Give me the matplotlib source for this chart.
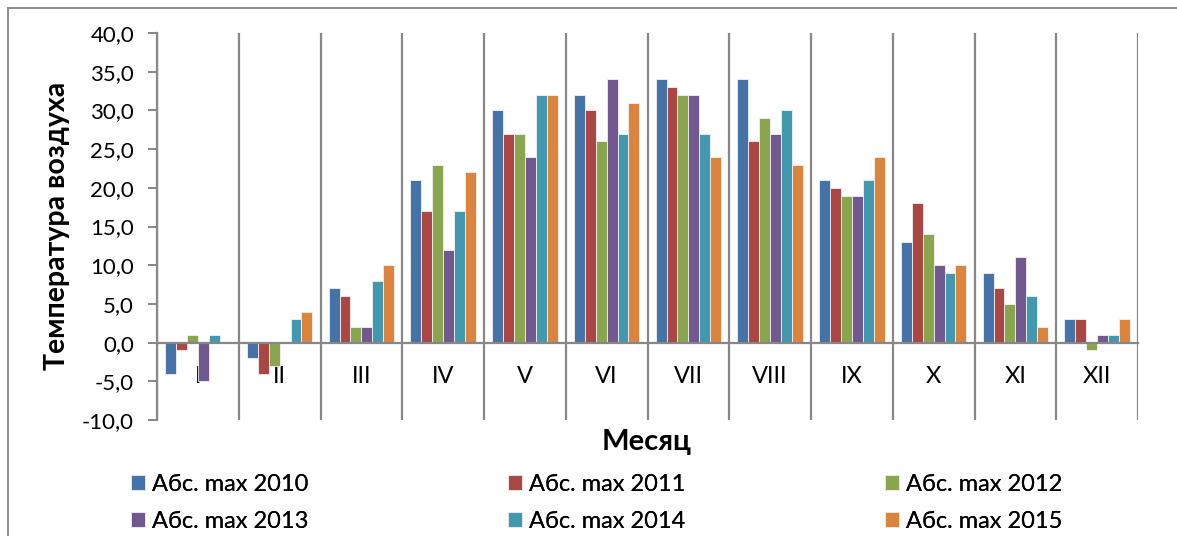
import matplotlib
matplotlib.use("Agg")
import matplotlib.pyplot as plt
import numpy as np
from matplotlib.patches import Rectangle
from matplotlib.ticker import FixedLocator

plt.rcParams['font.family'] = ['Lato', 'DejaVu Sans']

months = ["I", "II", "III", "IV", "V", "VI", "VII", "VIII", "IX", "X", "XI", "XII"]
series_names = ["Абс. max 2010", "Абс. max 2011", "Абс. max 2012",
                "Абс. max 2013", "Абс. max 2014", "Абс. max 2015"]
max_2010 = [-4, -2, 7, 21, 30, 32, 34, 34, 21, 13, 9, 3]
max_2011 = [-1, -4, 6, 17, 27, 30, 33, 26, 20, 18, 7, 3]
max_2012 = [1, -3, 2, 23, 27, 26, 32, 29, 19, 14, 5, -1]
max_2013 = [-5, 0, 2, 12, 24, 34, 32, 27, 19, 10, 11, 1]
max_2014 = [1, 3, 8, 17, 32, 27, 27, 30, 21, 9, 6, 1]
max_2015 = [0, 4, 10, 22, 32, 31, 24, 23, 24, 10, 2, 3]
series = [max_2010, max_2011, max_2012, max_2013, max_2014, max_2015]
colors = ["#4572A7", "#AA4643", "#89A54E", "#71588F", "#4198AF", "#DB843D"]

W, H = 1177, 536
fig = plt.figure(figsize=(W / 100, H / 100), dpi=100)
ax = fig.add_axes([157 / W, 1 - 420 / H, (1138 - 157) / W, (420 - 33) / H])

x = np.arange(len(months))
n = len(series)
group = 0.8
bw = group / n
handles = []
for i, (vals, c) in enumerate(zip(series, colors)):
    offs = -group / 2 + bw * (i + 0.5)
    b = ax.bar(x + offs, vals, width=bw, color=c, edgecolor="#f2f2f2",
               linewidth=0.6, zorder=2, label=series_names[i])
    handles.append(b)

axis_gray = "#878787"
ax.set_xlim(-0.5, len(months) - 0.5)
ax.set_ylim(-10, 40)
yt = np.arange(-10, 41, 5)
ax.set_yticks(yt)
ax.set_yticklabels([f"{v:.1f}".replace(".", ",") for v in yt], fontsize=16)
ax.tick_params(axis="y", direction="out", length=6.5, width=1.4, color=axis_gray,
               pad=10)

# category axis crosses at zero
ax.spines["bottom"].set_position(("data", 0))
ax.spines["bottom"].set_color(axis_gray)
ax.spines["bottom"].set_linewidth(1.6)
ax.spines["left"].set_color(axis_gray)
ax.spines["left"].set_linewidth(1.6)
ax.spines["top"].set_visible(False)
ax.spines["right"].set_visible(False)
ax.set_xticks(x)
ax.set_xticklabels(months, fontsize=17)
ax.tick_params(axis="x", which="major", length=0, pad=17)
ax.xaxis.set_minor_locator(FixedLocator(np.arange(-0.5, len(months), 1.0)))
ax.tick_params(axis="x", which="minor", length=0)
ax.grid(True, which="minor", axis="x", color=axis_gray, linewidth=1.6)
ax.grid(False, which="major")
ax.set_axisbelow(True)

fig.text(57 / W, 1 - 226 / H, "Температура воздуха", rotation=90,
         ha="center", va="center", fontsize=20.5, fontweight="bold")
fig.text(647 / W, 1 - 442 / H, "Месяц", ha="center", va="center",
         fontsize=21, fontweight="bold")

# legend: three columns, two rows, laid out left to right
col_x = [131, 508, 885]
for col in range(3):
    ids = [col, col + 3]
    leg = fig.legend([handles[k] for k in ids], [series_names[k] for k in ids],
                     loc="upper left", bbox_to_anchor=(col_x[col] / W, 1 - 474 / H),
                     frameon=False, fontsize=17, handlelength=0.6,
                     handleheight=0.6, handletextpad=0.27, labelspacing=0.68,
                     borderaxespad=0, borderpad=0)
    fig.add_artist(leg)

fig.patches.append(Rectangle((8 / W, -0.1), 1.2, 1 - 8 / H + 0.1,
                             transform=fig.transFigure, fill=False,
                             edgecolor="#8c8c8c", linewidth=1.4, zorder=0))

fig.savefig("out.png", dpi=100)
